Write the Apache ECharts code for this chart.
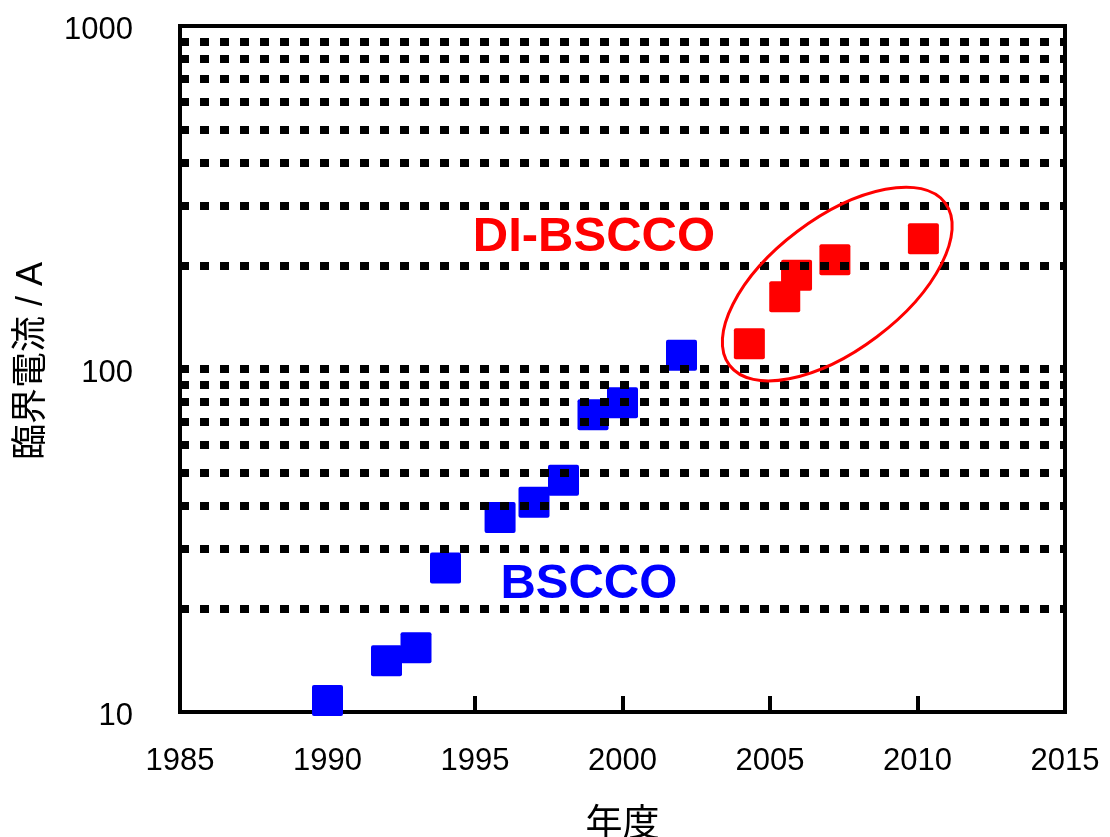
<!DOCTYPE html>
<html>
<head>
<meta charset="utf-8">
<script src="https://cdn.jsdelivr.net/npm/echarts@6/dist/echarts.min.js"></script>
<style>
  html, body { margin: 0; padding: 0; background: #fff; }
  #chart { width: 1110px; height: 837px; }
</style>
</head>
<body>
<div id="chart"></div>
<script>
// ---- data ----
var blueYears  = [1990, 1992, 1993, 1994, 1995.85, 1997, 1998, 1999, 2000, 2002];
var blueValues = [10.8, 14.1, 15.4, 26.3, 36.9, 40.9, 47.4, 73.5, 79.7, 109.6];
var redYears   = [2004.3, 2005.5, 2005.9, 2007.2, 2010.2];
var redValues  = [118.5, 162.5, 187.6, 208.2, 239.9];
var gridValues = [20, 30, 40, 50, 60, 70, 80, 90, 100, 200, 300, 400, 500, 600, 700, 800, 900];
var xTicks = [1985, 1990, 1995, 2000, 2005, 2010, 2015];
var yTicks = [10, 100, 1000];
var labelBSCCO = { text: 'BSCCO', year: 1998.86, value: 23.6 };
var labelDI = { text: 'DI-BSCCO', year: 1999.03, value: 241 };
var ellipseCenter = { year: 2007.28, value: 176.9 };

var FONT = '"Liberation Sans", Arial, "Noto Sans CJK JP", sans-serif';
var SQ = 'path://M2,0 H29 Q31,0 31,2 V29 Q31,31 29,31 H2 Q0,31 0,29 V2 Q0,0 2,0 Z';

function pairs(xs, ys) { return xs.map(function (x, i) { return [x, ys[i]]; }); }

var chart = echarts.init(document.getElementById('chart'), null, { renderer: 'canvas' });
chart.setOption({
  animation: false,
  backgroundColor: '#fff',
  grid: {
    left: 180, right: 45, top: 26, bottom: 125,
    containLabel: false, outerBoundsMode: 'none',
    show: true, borderColor: '#000', borderWidth: 4, backgroundColor: 'transparent'
  },
  xAxis: {
    type: 'value', min: xTicks[0], max: xTicks[xTicks.length - 1], interval: 5,
    name: '年度', nameLocation: 'middle', nameGap: 95,
    nameTextStyle: { fontFamily: FONT, fontSize: 37, color: '#000' },
    axisLine: { show: true, lineStyle: { color: '#000', width: 4 } },
    axisTick: { show: true, inside: true, length: 16, lineStyle: { color: '#000', width: 4 } },
    axisLabel: { color: '#000', fontFamily: FONT, fontSize: 31, margin: 34, formatter: function (v) { return String(v); } },
    splitLine: { show: false }
  },
  yAxis: {
    type: 'log', logBase: 10, min: yTicks[0], max: yTicks[yTicks.length - 1],
    name: '臨界電流 / A', nameLocation: 'middle', nameRotate: 90, nameGap: 130,
    nameTextStyle: { fontFamily: FONT, fontSize: 36, color: '#000', padding: [0, 0, 0, 16] },
    axisLine: { show: true, lineStyle: { color: '#000', width: 4 } },
    axisTick: { show: false },
    axisLabel: {
      color: '#000', fontFamily: FONT, fontSize: 31, margin: 47,
      formatter: function (v) { return '{v|' + Math.round(v) + '}'; },
      rich: { v: { color: '#000', fontFamily: FONT, fontSize: 31, padding: [8, 0, 0, 0] } }
    },
    splitLine: { show: false }
  },
  series: [
    {
      type: 'scatter', name: 'grid', data: [], z: 1, silent: true,
      markLine: {
        silent: true, symbol: 'none', animation: false,
        label: { show: false },
        lineStyle: { color: '#000', width: 8, type: [9, 11], opacity: 1 },
        emphasis: { disabled: true },
        data: gridValues.map(function (v) { return { yAxis: v }; })
      }
    },
    {
      type: 'scatter', name: 'BSCCO', z: 3,
      symbol: SQ, symbolSize: 31,
      itemStyle: { color: '#0000ff', opacity: 1 },
      data: pairs(blueYears, blueValues)
    },
    {
      type: 'scatter', name: 'DI-BSCCO', z: 3,
      symbol: SQ, symbolSize: 31,
      itemStyle: { color: '#ff0000', opacity: 1 },
      data: pairs(redYears, redValues)
    }
  ]
});

function px(year, value) { return chart.convertToPixel({ xAxisIndex: 0, yAxisIndex: 0 }, [year, value]); }
var pB = px(labelBSCCO.year, labelBSCCO.value);
var pD = px(labelDI.year, labelDI.value);
var pE = px(ellipseCenter.year, ellipseCenter.value);

chart.setOption({
  graphic: [
    {
      type: 'ellipse', x: pE[0], y: pE[1], rotation: 37 * Math.PI / 180, z: 10,
      shape: { cx: 0, cy: 0, rx: 135, ry: 66 },
      style: { fill: 'none', stroke: '#ff0000', lineWidth: 3 }
    },
    {
      type: 'text', x: pD[0], y: pD[1], z: 10,
      style: { text: labelDI.text, fill: '#ff0000', font: 'bold 49px ' + FONT, align: 'center', verticalAlign: 'middle', textAlign: 'center', textVerticalAlign: 'middle' }
    },
    {
      type: 'text', x: pB[0], y: pB[1], z: 10,
      style: { text: labelBSCCO.text, fill: '#0000ff', font: 'bold 49px ' + FONT, align: 'center', verticalAlign: 'middle', textAlign: 'center', textVerticalAlign: 'middle' }
    }
  ]
});
</script>
</body>
</html>
